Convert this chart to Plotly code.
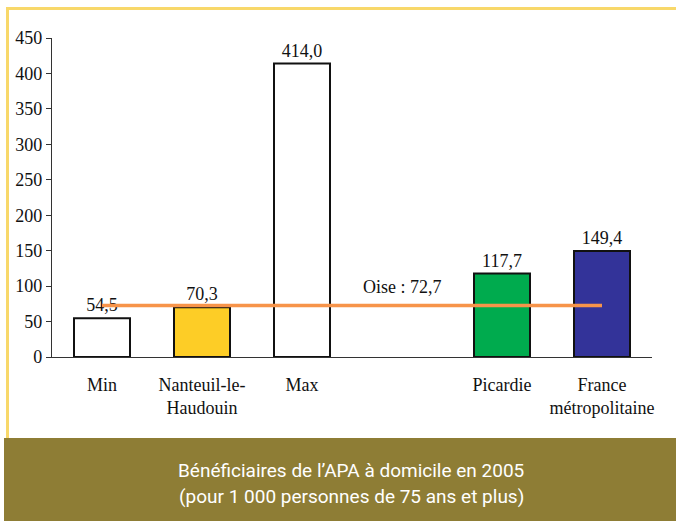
import plotly.graph_objects as go

categories = ["Min", "Nanteuil", "Max", "blank", "Picardie", "France"]
tick_labels = ["Min", "Nanteuil-le-<br>Haudouin", "Max", "", "Picardie", "France<br>métropolitaine"]
values = [54.5, 70.3, 414.0, None, 117.7, 149.4]
bar_colors = ["#FFFFFF", "#FDCD26", "#FFFFFF", "#FFFFFF", "#00AB4E", "#333399"]
oise_value = 72.7
oise_label = "Oise : 72,7"
caption = ["Bénéficiaires de l’APA à domicile en 2005", "(pour 1 000 personnes de 75 ans et plus)"]

texts = ["" if v is None else f"{v:.1f}".replace(".", ",") for v in values]

W, H = 676, 521
L, R, T, B = 52, 24, 38, 164
pw, ph = W - L - R, H - T - B
FS = 18

def px(x):
    return (x - L) / pw

def py(y):
    return (H - B - y) / ph

fig = go.Figure()
fig.add_trace(go.Bar(
    x=categories, y=values, width=0.56,
    marker=dict(color=bar_colors, line=dict(color="#111111", width=2)),
    text=texts, textposition="outside", cliponaxis=False,
    textfont=dict(family="Liberation Serif", size=FS, color="#111111"),
    hoverinfo="skip",
))
fig.add_trace(go.Scatter(
    x=[categories[0], categories[-1]], y=[oise_value, oise_value],
    mode="lines", line=dict(color="#F7944A", width=3.5), hoverinfo="skip",
))

fig.add_annotation(x=categories[3], y=oise_value, text=oise_label, showarrow=False,
                   yshift=18, font=dict(family="Liberation Serif", size=FS, color="#111111"))

shapes = [
    dict(type="rect", xref="paper", yref="paper", x0=px(4), x1=px(W + 2), y0=py(H + 2), y1=py(438),
         fillcolor="#8E7D35", line=dict(width=0), layer="below"),
    dict(type="line", xref="paper", yref="paper", x0=px(6), x1=px(W + 2), y0=py(8.5), y1=py(8.5),
         line=dict(color="#F8D86A", width=3)),
    dict(type="line", xref="paper", yref="paper", x0=px(7.5), x1=px(7.5), y0=py(7), y1=py(438),
         line=dict(color="#F8D86A", width=3)),
]
for i, line in enumerate(caption):
    fig.add_annotation(xref="paper", yref="paper", x=px(351), y=py(471 + 25 * i), text=line,
                       yanchor="middle", xanchor="center",
                       showarrow=False, font=dict(family="Roboto", size=19, color="#FFFFFF"))

fig.update_layout(
    width=W, height=H, margin=dict(l=L, r=R, t=T, b=B),
    paper_bgcolor="#FFFFFF", plot_bgcolor="#FFFFFF",
    showlegend=False, shapes=shapes, bargap=0.44,
    font=dict(family="Liberation Serif", size=FS, color="#111111"),
)
fig.update_xaxes(
    tickmode="array", tickvals=categories, ticktext=tick_labels,
    range=[-0.5, 5.5], showline=True, linecolor="#333333", linewidth=1.2,
    ticks="", showgrid=False, zeroline=False, ticklabelstandoff=11,
    tickfont=dict(family="Liberation Serif", size=FS, color="#111111"),
)
fig.update_yaxes(
    range=[0, 450], dtick=50, showline=True, linecolor="#333333", linewidth=1.2,
    ticks="outside", ticklen=5, tickcolor="#333333", showgrid=False, zeroline=False,
    tickfont=dict(family="Liberation Serif", size=FS, color="#111111"),
)

fig.write_html("out.html", config={"displayModeBar": False},
               post_script="document.body.style.margin='0';")
